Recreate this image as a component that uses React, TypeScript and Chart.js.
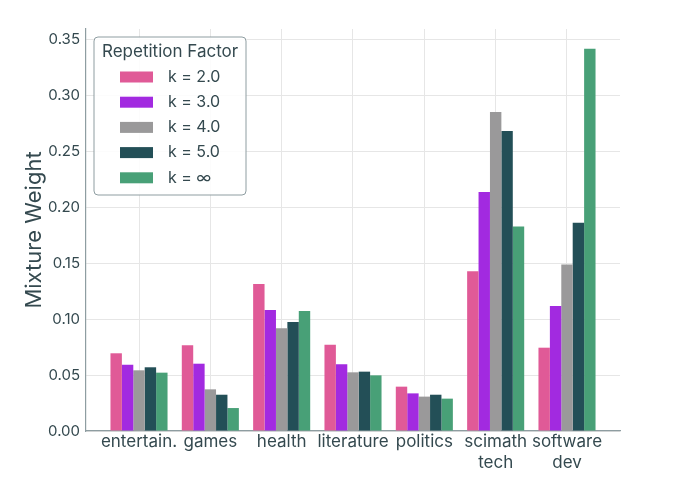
import { useEffect, useRef } from 'react';
import Chart from 'chart.js/auto';

const categories: (string | string[])[] = ['entertain.', 'games', 'health', 'literature', 'politics', ['scimath', 'tech'], ['software', 'dev']];
const seriesLabels = ['k = 2.0', 'k = 3.0', 'k = 4.0', 'k = 5.0', 'k = ∞'];
const k2 = [0.0694, 0.0765, 0.1313, 0.0771, 0.0396, 0.1426, 0.0744];
const k3 = [0.0592, 0.0601, 0.108, 0.0595, 0.0336, 0.2134, 0.1116];
const k4 = [0.0542, 0.0372, 0.0917, 0.0524, 0.0307, 0.2848, 0.1488];
const k5 = [0.0569, 0.0324, 0.0973, 0.053, 0.0324, 0.2679, 0.186];
const kInf = [0.0521, 0.0205, 0.1071, 0.0497, 0.0289, 0.1827, 0.3414];
const yTicks = [0, 0.05, 0.1, 0.15, 0.2, 0.25, 0.3, 0.35];

const colors = ['#e05a97', '#a22ae0', '#9a999a', '#234f57', '#48a077'];
const textColor = '#34494f';
const spineColor = '#8e9da1';
const FONT = 'Inter, "Noto Sans", sans-serif';

const legendBox = {
    id: 'legendBox',
    afterDraw(chart: any) {
        const ctx = chart.ctx;
        const x = 94, y = 37, w = 152, h = 158;
        ctx.save();
        ctx.beginPath();
        ctx.roundRect(x, y, w, h, 4);
        ctx.fillStyle = 'rgba(255,255,255,0.85)';
        ctx.fill();
        ctx.strokeStyle = spineColor;
        ctx.lineWidth = 1;
        ctx.stroke();
        ctx.fillStyle = textColor;
        ctx.textBaseline = 'middle';
        ctx.textAlign = 'left';
        ctx.font = `17px ${FONT}`;
        ctx.fillText('Repetition Factor', 102, 52);
        ctx.font = `16px ${FONT}`;
        chart.data.datasets.forEach((ds: any, i: number) => {
            const cy = 77 + i * 25.2;
            ctx.fillStyle = ds.backgroundColor;
            ctx.fillRect(120, cy - 5.5, 33, 11);
            ctx.fillStyle = textColor;
            ctx.fillText(ds.label, 168, cy);
        });
        ctx.restore();
    },
};

export default function App() {
    const canvasRef = useRef<HTMLCanvasElement | null>(null);
    useEffect(() => {
        if (!canvasRef.current) return;
        const ctx = canvasRef.current.getContext('2d');
        if (!ctx) return;
        const series = [k2, k3, k4, k5, kInf];
        const chart = new Chart(ctx, {
            type: 'bar',
            data: {
                datasets: series.map((vals, i) => ({
                    label: seriesLabels[i],
                    data: vals.map((v, j) => ({ x: j, y: v })),
                    backgroundColor: colors[i],
                    borderWidth: 0,
                    barPercentage: 1,
                    categoryPercentage: 0.8,
                })),
            },
            options: {
                animation: false,
                responsive: false,
                layout: { padding: { left: 0, top: 29, right: 60, bottom: 0 } },
                plugins: { legend: { display: false }, tooltip: { enabled: false } },
                scales: {
                    x: {
                        type: 'linear',
                        min: -0.743,
                        max: 6.743,
                        offset: false,
                        afterBuildTicks: (scale: any) => {
                            scale.ticks = categories.map((_, i) => ({ value: i }));
                        },
                        afterFit: (scale: any) => { scale.height = 55; },
                        grid: { color: '#e6e6e6', offset: false, drawTicks: false },
                        border: { color: spineColor, width: 1.2 },
                        ticks: {
                            autoSkip: false,
                            maxRotation: 0,
                            includeBounds: false,
                            padding: 1,
                            color: textColor,
                            font: { family: FONT, size: 17, lineHeight: 1.2 },
                            callback: (v: any) => categories[v as number],
                        },
                    },
                    y: {
                        min: 0,
                        max: 0.359,
                        afterBuildTicks: (scale: any) => {
                            scale.ticks = yTicks.map((v) => ({ value: v }));
                        },
                        afterFit: (scale: any) => { scale.width = 86; },
                        grid: { color: '#e6e6e6', drawTicks: false },
                        border: { color: spineColor, width: 1.2 },
                        title: {
                            display: true,
                            text: 'Mixture Weight',
                            color: textColor,
                            font: { family: FONT, size: 22 },
                            padding: { top: 21, bottom: 0 },
                        },
                        ticks: {
                            padding: 6,
                            color: textColor,
                            font: { family: FONT, size: 15 },
                            callback: (v: any) => Number(v).toFixed(2),
                        },
                    },
                },
            },
            plugins: [legendBox],
        });
        return () => chart.destroy();
    }, []);

    return (
        <div style={{ position: 'fixed', left: 0, top: 0, width: 680, height: 486, background: '#fff' }}>
            <canvas ref={canvasRef} width={680} height={486} />
        </div>
    );
}
